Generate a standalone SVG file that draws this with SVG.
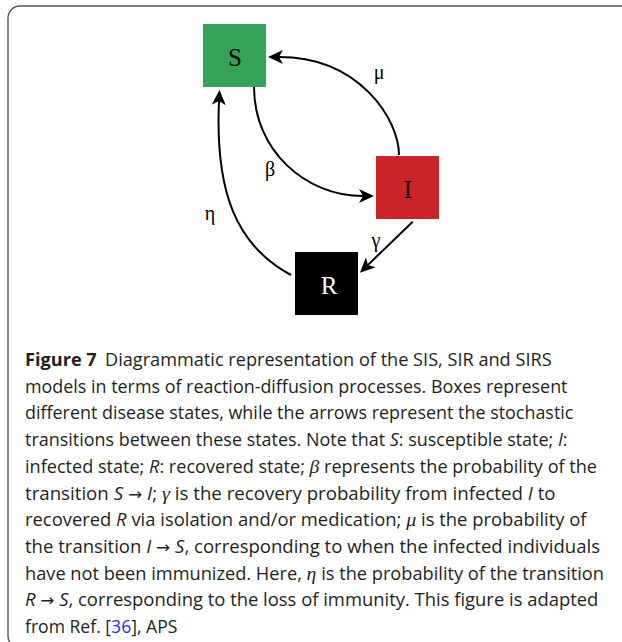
<svg xmlns="http://www.w3.org/2000/svg" width="622" height="642" viewBox="0 0 622 642">
<defs>
<style>
.box-label{font-family:"Liberation Serif","Times New Roman",serif;font-size:25px;text-anchor:middle;dominant-baseline:central}
.edge{fill:none;stroke:#000;stroke-width:2;marker-end:url(#arrow)}
.elabel{font-family:"Liberation Serif","Times New Roman",serif;font-size:20px;fill:#000;text-anchor:middle;dominant-baseline:central}
.cap{font-family:"Open Sans","Noto Sans","Liberation Sans",sans-serif;font-size:17.5px;fill:#231f20}
.b{font-weight:bold}
.i{font-style:italic}
.g{font-family:"Liberation Serif","Times New Roman",serif;font-style:italic;font-size:19px}
.ar{font-family:"DejaVu Sans",sans-serif;font-size:16px}
.link{fill:#2a2aff}
</style>
<marker id="arrow" markerUnits="userSpaceOnUse" viewBox="0 0 15 14" markerWidth="15" markerHeight="14" refX="4" refY="7" orient="auto">
<path d="M15,7 L0,0 L4,7 L0,14 Z" fill="#000"/>
</marker>
</defs>
<rect x="0" y="0" width="622" height="642" fill="#fff"/>
<rect id="frame" x="8" y="6" width="650" height="642" rx="12" ry="12" fill="#fff" stroke="#555" stroke-width="1.4"/>

<g id="connectors">
<path class="edge" d="M399,155 C399,120 360,57 279,57"/>
<path class="edge" d="M254,87 C254,150 305,196 363,196"/>
<path class="edge" d="M291,275 C235,245 215,190 219,101"/>
<path class="edge" d="M412.7,221.7 L367.9,265"/>
<text class="elabel" x="379" y="72">μ</text>
<text class="elabel" x="270" y="169">β</text>
<text class="elabel" x="210" y="213">η</text>
<text class="elabel" x="376" y="240">γ</text>
</g>

<g id="node-S">
<rect x="203" y="24" width="63" height="63" fill="#34a258"/>
<text class="box-label" x="235" y="57" fill="#000">S</text>
</g>
<g id="node-I">
<rect x="376" y="156" width="63" height="63" fill="#cc2229"/>
<text class="box-label" x="408" y="189" fill="#000">I</text>
</g>
<g id="node-R">
<rect x="295" y="252" width="63" height="63" fill="#000"/>
<text class="box-label" x="329" y="285" fill="#fff">R</text>
</g>

<g id="caption">
<text class="cap" x="25" y="366" textLength="526.6" lengthAdjust="spacingAndGlyphs"><tspan class="b">Figure 7</tspan><tspan dx="8">Diagrammatic representation of the SIS, SIR and SIRS</tspan></text>
<text class="cap" x="25" y="392.7" textLength="542.5" lengthAdjust="spacingAndGlyphs">models in terms of reaction-diffusion processes. Boxes represent</text>
<text class="cap" x="25" y="419.4" textLength="548.4" lengthAdjust="spacingAndGlyphs">different disease states, while the arrows represent the stochastic</text>
<text class="cap" x="25" y="446.1" textLength="542.5" lengthAdjust="spacingAndGlyphs">transitions between these states. Note that <tspan class="i">S</tspan>: susceptible state; <tspan class="i">I</tspan>:</text>
<text class="cap" x="25" y="472.8" textLength="572" lengthAdjust="spacingAndGlyphs">infected state; <tspan class="i">R</tspan>: recovered state; <tspan class="g">β</tspan> represents the probability of the</text>
<text class="cap" x="25" y="499.5" textLength="530.6" lengthAdjust="spacingAndGlyphs">transition <tspan class="i">S</tspan> <tspan class="ar">→</tspan> <tspan class="i">I</tspan>; <tspan class="g">γ</tspan> is the recovery probability from infected <tspan class="i">I</tspan> to</text>
<text class="cap" x="25" y="526.2" textLength="561.5" lengthAdjust="spacingAndGlyphs">recovered <tspan class="i">R</tspan> via isolation and/or medication; <tspan class="g">μ</tspan> is the probability of</text>
<text class="cap" x="25" y="552.9" textLength="575" lengthAdjust="spacingAndGlyphs">the transition <tspan class="i">I</tspan> <tspan class="ar">→</tspan> <tspan class="i">S</tspan>, corresponding to when the infected individuals</text>
<text class="cap" x="25" y="579.6" textLength="579" lengthAdjust="spacingAndGlyphs">have not been immunized. Here, <tspan class="g">η</tspan> is the probability of the transition</text>
<text class="cap" x="25" y="606.3" textLength="573.4" lengthAdjust="spacingAndGlyphs"><tspan class="i">R</tspan> <tspan class="ar">→</tspan> <tspan class="i">S</tspan>, corresponding to the loss of immunity. This figure is adapted</text>
<text class="cap" x="25" y="633" textLength="152.4" lengthAdjust="spacingAndGlyphs">from Ref. [<tspan class="link">36</tspan>], APS</text>
</g>
</svg>
